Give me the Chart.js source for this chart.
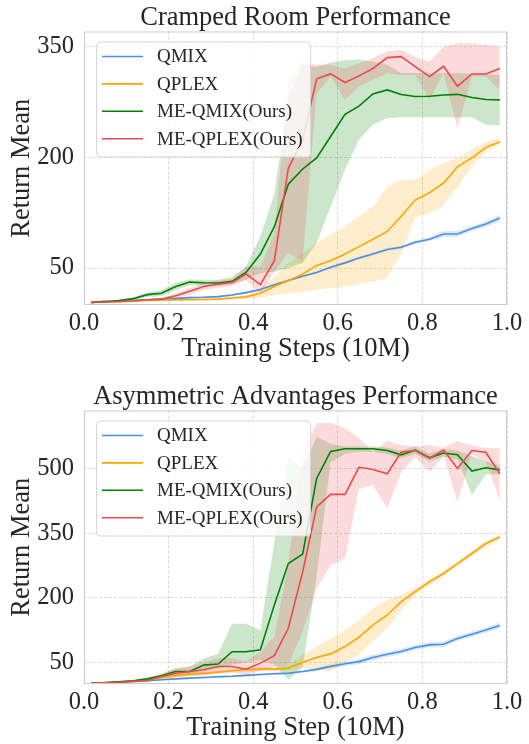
<!DOCTYPE html>
<html>
<head>
<meta charset="utf-8">
<script src="https://cdn.jsdelivr.net/npm/chart.js@4.4.1/dist/chart.umd.min.js"></script>
<style>
  html, body { margin: 0; padding: 0; background: #fff; }
  .box { position: absolute; left: 0; width: 529px; height: 365px; }
</style>
</head>
<body>
<div class="box" style="top:0"><canvas id="cramped"></canvas></div>
<div class="box" style="top:379px"><canvas id="asym"></canvas></div>
<script>
// x positions of the logged points (10M steps)
var xSteps = [0.017, 0.05, 0.083, 0.117, 0.15, 0.183, 0.217, 0.25, 0.283, 0.317,
  0.35, 0.383, 0.417, 0.45, 0.483, 0.517, 0.55, 0.583, 0.617, 0.65,
  0.683, 0.717, 0.75, 0.783, 0.817, 0.85, 0.883, 0.917, 0.95, 0.983];

var seriesNames = ["QMIX", "QPLEX", "ME-QMIX(Ours)", "ME-QPLEX(Ours)"];
var seriesColors = ["#4a8fe6", "#ffa500", "#008000", "#ec4a4a"];

// Cramped Room
var crampedQmix = [3.6, 5, 5.4, 6.3, 7.2, 8, 9, 10, 10.4, 11.3, 13.5, 16.7, 21, 27.5, 33, 39, 44, 51, 57, 63.5, 69, 75, 78, 85, 89, 96, 96, 103.6, 109.5, 117.6];
var crampedQmixLo = [3, 4.4, 4.8, 5.6, 6.4, 7.2, 8, 9, 9.4, 10.2, 12.3, 15.4, 19.5, 26, 31.5, 37.5, 42.5, 49.5, 55, 61.5, 67, 73, 76, 82.5, 86.5, 92, 92, 100, 105.5, 113];
var crampedQmixHi = [4.2, 5.6, 6, 7, 8, 8.8, 10, 11, 11.4, 12.4, 14.7, 18, 22.5, 29, 34.5, 40.5, 45.5, 52.5, 59, 65.5, 71, 77, 80, 87.5, 91.5, 100, 100, 107, 113.5, 122];

var crampedQplex = [3.6, 4.5, 5, 5.5, 6, 6.5, 7, 7.2, 7.5, 8, 9.5, 11, 16, 25, 33, 42, 53.6, 60, 69, 79, 89, 99.5, 120, 142, 152, 165, 187, 199, 213, 221];
var crampedQplexLo = [3, 3.8, 4.2, 4.6, 5, 5.4, 5.8, 6, 6.2, 6.6, 7.5, 8, 10, 13, 16, 18, 20.7, 23, 25, 28, 32, 36.5, 70, 118, 124, 135, 160, 187, 208, 217];
var crampedQplexHi = [4.2, 5.2, 5.8, 6.4, 7, 7.6, 8.2, 8.4, 8.8, 9.4, 11.5, 14, 22, 38, 57, 70, 84, 95, 106, 120, 133, 160, 169, 169, 183, 192, 199, 210, 221, 226];

var crampedMeQmix = [3.6, 4.5, 6, 8.6, 14, 16, 25, 31, 30, 29.7, 32, 44, 69, 106, 163.5, 184, 199, 228, 258, 269, 285.6, 291, 284.7, 282, 282.4, 284, 285, 280.6, 278, 277.5];
var crampedMeQmixLo = [3, 3.8, 5, 7, 11, 12, 20, 27, 26, 26, 28, 34, 43, 45, 50, 57, 84, 133, 183, 224, 244, 253, 254, 254, 254, 254, 254, 254, 244, 243];
var crampedMeQmixHi = [4.2, 5.2, 7, 10, 17, 20, 30, 35, 34, 34, 38, 52, 93, 150, 280, 325, 322, 328, 331, 332, 329, 325, 314, 314, 314, 314, 314, 313, 312, 311];

var crampedMeQplex = [3.6, 4, 4.5, 5.5, 7, 8, 12.6, 18.5, 25, 28, 30.6, 42, 27.5, 60, 185, 223, 306, 312.6, 301, 310, 320, 334.7, 336, 322.5, 309, 323, 296, 312.6, 312.6, 320];
var crampedMeQplexLo = [3, 3.4, 3.8, 4.6, 5.8, 6.5, 9.5, 14, 20, 23, 26, 34, 15, 45, 70, 60, 286, 309, 277.5, 295.5, 304.5, 313.5, 311, 311, 277.5, 313.5, 239, 309, 309, 291];
var crampedMeQplexHi = [4.2, 4.6, 5.2, 6.4, 8.2, 9.5, 16, 23, 30, 33, 35, 52, 52, 97, 300, 329, 325, 325, 320, 327, 334, 343, 345, 336, 329, 349.5, 354, 354, 352, 349.5];

// Asymmetric Advantages
var asymQmix = [2, 3, 4.4, 6, 7.5, 10, 12, 13.7, 15, 17, 18, 20, 22, 24, 25, 29, 34, 41, 47, 52, 61.6, 69, 75.5, 85, 91, 92.5, 106, 115.7, 125.7, 135.8];
var asymQmixLo = [0.5, 1.5, 3, 4.5, 6, 8, 10, 11.5, 12.5, 14.5, 15.5, 17.5, 19.5, 21.5, 22.5, 26, 30, 36, 41, 46, 55, 63, 69, 79, 85, 86, 100, 109.5, 119.5, 129];
var asymQmixHi = [3.5, 4.5, 6, 7.5, 9, 12, 14, 16, 17.5, 19.5, 20.5, 22.5, 24.5, 26.5, 28, 32, 38, 46, 53, 58, 68, 75, 82, 91, 97, 99, 112, 122, 132, 142.5];

var asymQplex = [2, 3.5, 5, 7, 9.5, 15, 20, 23, 25, 27.6, 30.7, 33, 35, 34.5, 37, 50.8, 61.6, 70, 87, 108.7, 137, 160.5, 191.4, 214.6, 237.8, 257, 280, 303.5, 326.7, 342];
var asymQplexLo = [0.5, 2, 3, 5, 7, 12, 16, 19, 21, 23, 26, 28, 30, 29, 30, 37, 33, 29, 52, 68, 99, 130, 172, 207, 231, 251, 274, 297, 320, 336];
var asymQplexHi = [3.5, 5, 7, 9, 12, 18, 24, 27, 29, 32, 35, 38, 40, 40, 44, 68, 87, 106, 125.7, 149, 176, 195, 208, 224, 244, 263, 286, 310, 333, 348];

var asymMeQmix = [2, 3, 5, 7.5, 12, 19, 29, 29, 44, 46.5, 75, 75, 79.4, 184, 280, 302, 478, 541, 547, 547, 547, 543, 533, 544, 526, 537, 533, 495, 503, 498];
var asymMeQmixLo = [0.5, 1.5, 3.5, 5.5, 9, 15, 22, 22, 30, 35, 45, 50, 55, 45, 10, 40, 250, 515, 535, 540, 540, 535, 525, 535, 518, 528, 522, 440, 488, 488];
var asymMeQmixHi = [3.5, 4.5, 6.5, 9.5, 15, 24, 36, 40, 60, 70, 140, 140, 125, 330, 525, 500, 575, 558, 553, 552, 552, 550, 543, 552, 536, 546, 543, 530, 518, 508];

var asymMeQplex = [2, 3, 4, 6, 8, 17.5, 25, 29, 33, 40.7, 40.7, 34.5, 48.5, 66, 129.6, 261, 412, 441, 441, 504, 499, 489, 539.5, 543, 525, 544, 501, 543, 539, 489];
var asymMeQplexLo = [0.5, 1.5, 2.5, 4, 5.5, 12, 15, 18, 20, 25, 28, 22, 30, 40, 45, 122, 222, 276, 292, 454, 462, 408, 493, 527, 493, 531, 423, 535, 516, 427];
var asymMeQplexHi = [3.5, 4.5, 5.5, 8, 11, 24, 36, 42, 50, 60, 60, 52, 75, 110, 280, 540, 607, 607, 595, 572, 540, 565, 555, 552, 555, 550, 565, 555, 548, 548];

var crampedYTicks = [50, 200, 350];
var asymYTicks = [50, 200, 350, 500];

var fontFamily = '"Liberation Serif", "Times New Roman", serif';
var textColor = "#262626";

function pts(arr) {
  return arr.map(function (v, i) { return { x: xSteps[i], y: v }; });
}

function hexToRgba(hex, a) {
  var n = parseInt(hex.slice(1), 16);
  return "rgba(" + (n >> 16) + "," + ((n >> 8) & 255) + "," + (n & 255) + "," + a + ")";
}

// one band (lo + hi filled) and one mean line per series
function buildDatasets(means, los, his) {
  var ds = [];
  means.forEach(function (m, k) {
    var c = seriesColors[k];
    ds.push({ label: "lo", data: pts(los[k]), borderWidth: 0, pointRadius: 0, fill: false, order: 20 - k });
    ds.push({ label: "hi", data: pts(his[k]), borderWidth: 0, pointRadius: 0,
      backgroundColor: hexToRgba(c, 0.2), fill: "-1", order: 20 - k });
    ds.push({ label: seriesNames[k], data: pts(m), borderColor: c, borderWidth: 1.6,
      pointRadius: 0, fill: false, tension: 0, order: 4 - k });
  });
  return ds;
}

// frame round the plot and the boxed legend
var framePlugin = {
  id: "frameLegend",
  afterDraw: function (chart) {
    var ctx = chart.ctx, a = chart.chartArea;
    ctx.save();
    ctx.strokeStyle = "#cccccc";
    ctx.lineWidth = 1;
    ctx.strokeRect(a.left + 0.5, a.top + 0.5, a.right - a.left - 1, a.bottom - a.top - 1);

    var x0 = a.left + 12, y0 = a.top + 10, w = 214, h = 115, r = 4;
    ctx.beginPath();
    ctx.roundRect(x0 + 0.5, y0 + 0.5, w, h, r);
    ctx.fillStyle = "rgba(255,255,255,0.8)";
    ctx.fill();
    ctx.strokeStyle = "#d6d6d6";
    ctx.stroke();

    ctx.font = "19px " + fontFamily;
    ctx.textBaseline = "middle";
    seriesNames.forEach(function (name, i) {
      var y = a.top + 25 + i * 27.4;
      ctx.beginPath();
      ctx.strokeStyle = seriesColors[i];
      ctx.lineWidth = 1.6;
      ctx.moveTo(a.left + 18, y);
      ctx.lineTo(a.left + 59, y);
      ctx.stroke();
      ctx.fillStyle = textColor;
      ctx.fillText(name, a.left + 73, y + 1);
    });
    ctx.restore();
  }
};

function makeChart(id, title, xTitle, yMax, yTicks, means, los, his) {
  var ctx = document.getElementById(id).getContext("2d");
  return new Chart(ctx, {
    type: "line",
    data: { datasets: buildDatasets(means, los, his) },
    plugins: [framePlugin],
    options: {
      responsive: true,
      maintainAspectRatio: false,
      animation: false,
      events: [],
      layout: { padding: { top: 5, right: 22, bottom: 0, left: 0 } },
      plugins: {
        legend: { display: false },
        tooltip: { enabled: false },
        title: {
          display: true,
          text: title,
          fullSize: false,
          color: textColor,
          font: { family: fontFamily, size: 26.5, weight: "normal", lineHeight: 1 },
          padding: 0,
        },
      },
      scales: {
        x: {
          type: "linear",
          min: 0,
          max: 1,
          afterFit: function (s) { s.height = 60; },
          ticks: {
            stepSize: 0.2,
            padding: 4,
            color: textColor,
            font: { family: fontFamily, size: 24.5 },
            callback: function (v) { return v.toFixed(1); },
          },
          grid: { color: "#d9d9d9", lineWidth: 1, drawTicks: false },
          border: { display: false, dash: [3, 2] },
          title: {
            display: true,
            text: xTitle,
            color: textColor,
            font: { family: fontFamily, size: 26.5, lineHeight: 1.2 },
            padding: { top: 0, bottom: 0 },
          },
        },
        y: {
          min: 0,
          max: yMax,
          afterFit: function (s) { s.width = 84; },
          afterBuildTicks: function (s) {
            s.ticks = yTicks.map(function (v) { return { value: v }; });
          },
          ticks: {
            padding: 10,
            color: textColor,
            font: { family: fontFamily, size: 24.5 },
          },
          grid: { color: "#d9d9d9", lineWidth: 1, drawTicks: false },
          border: { display: false, dash: [3, 2] },
          title: {
            display: true,
            text: "Return Mean",
            color: textColor,
            font: { family: fontFamily, size: 26.5, lineHeight: 1.2 },
            padding: { top: 6, bottom: 0 },
          },
        },
      },
    },
  });
}

makeChart("cramped", "Cramped Room Performance", "Training Steps (10M)", 370, crampedYTicks,
  [crampedQmix, crampedQplex, crampedMeQmix, crampedMeQplex],
  [crampedQmixLo, crampedQplexLo, crampedMeQmixLo, crampedMeQplexLo],
  [crampedQmixHi, crampedQplexHi, crampedMeQmixHi, crampedMeQplexHi]);

makeChart("asym", "Asymmetric Advantages Performance", "Training Step (10M)", 636, asymYTicks,
  [asymQmix, asymQplex, asymMeQmix, asymMeQplex],
  [asymQmixLo, asymQplexLo, asymMeQmixLo, asymMeQplexLo],
  [asymQmixHi, asymQplexHi, asymMeQmixHi, asymMeQplexHi]);
</script>
</body>
</html>
